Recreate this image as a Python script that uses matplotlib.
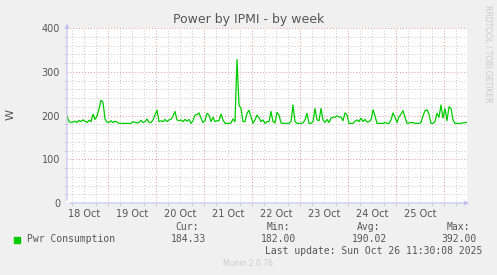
import matplotlib
matplotlib.use("Agg")
import matplotlib.pyplot as plt
import pandas as pd

# hourly samples, Oct 18 03:30 -> Oct 26 11:30
start = "2025-10-18 03:30"
power_w = [
    199, 186, 184, 185, 187, 184, 189, 186, 190, 187,
    184, 189, 186, 203, 191, 199, 215, 235, 230, 192,
    185, 184, 188, 184, 187, 185, 182, 182, 182, 182,
    182, 182, 182, 186, 184, 183, 184, 189, 184, 186,
    192, 184, 184, 190, 201, 212, 186, 188, 186, 191,
    186, 190, 191, 199, 209, 190, 188, 190, 186, 191,
    187, 191, 182, 188, 201, 202, 206, 194, 184, 188,
    205, 201, 186, 196, 186, 188, 188, 203, 190, 182,
    182, 182, 183, 192, 186, 328, 224, 216, 186, 186,
    205, 212, 197, 182, 190, 201, 195, 186, 190, 182,
    186, 186, 209, 186, 183, 207, 201, 183, 182, 182,
    182, 182, 186, 224, 186, 182, 182, 182, 183, 190,
    205, 182, 182, 186, 216, 190, 188, 216, 190, 184,
    191, 184, 194, 196, 196, 199, 197, 196, 188, 206,
    201, 182, 182, 182, 187, 190, 186, 194, 186, 191,
    185, 186, 190, 213, 199, 182, 182, 182, 182, 184,
    182, 182, 190, 206, 196, 184, 197, 203, 211, 196,
    182, 183, 184, 184, 182, 182, 182, 184, 199, 211,
    213, 203, 182, 182, 186, 205, 196, 224, 194, 216,
    188, 220, 216, 190, 182, 182, 182, 182, 183, 184,
    184,
]
day_labels = ["18 Oct", "19 Oct", "20 Oct", "21 Oct", "22 Oct", "23 Oct", "24 Oct", "25 Oct"]
y_ticks = [0, 100, 200, 300, 400]

stats_names = ["Cur:", "Min:", "Avg:", "Max:"]
stats_values = ["184.33", "182.00", "190.02", "392.00"]

times = pd.date_range(start, periods=len(power_w), freq="h")
t0, t1 = times[0], times[-1]

W, H = 497, 275
fig = plt.figure(figsize=(W / 100, H / 100), dpi=100)
fig.patch.set_facecolor("#f0f0f0")

ax = fig.add_axes([67 / W, 1 - 203 / H, 400 / W, 175 / H])
ax.set_facecolor("white")
ax.set_xlim(t0, t1)
ax.set_ylim(0, 400)

# grille mineure / majeure facon rrdtool (pointillés)
minor_col = "#c8c8c8"
major_col = "#e09a9a"
dots = (0, (1, 2))
grid_kw = dict(lw=0.7, ls=dots, zorder=1)
for v in range(0, 401, 20):
    if v % 100 == 0:
        continue
    ax.axhline(v, color=minor_col, **grid_kw)
for v in y_ticks[1:]:
    ax.axhline(v, color=major_col, clip_on=False, **grid_kw)
six_h = pd.date_range("2025-10-18 06:00", t1, freq="6h")
for t in six_h:
    col = major_col if t.hour == 0 else minor_col
    ax.axvline(t, color=col, **grid_kw)

ax.plot(times, power_w, color="#00cc00", lw=0.9, zorder=3)

for s in ax.spines.values():
    s.set_visible(False)

noons = pd.date_range("2025-10-18 12:00", periods=len(day_labels), freq="D")
ax.set_xticks(noons)
ax.set_xticklabels(day_labels)
ax.set_xticks(six_h, minor=True)
ax.set_yticks(y_ticks)
ax.set_yticks(range(0, 401, 20), minor=True)
ax.tick_params(axis="both", which="major", length=0, labelsize=7, colors="#555555")
ax.tick_params(axis="both", which="minor", length=2, width=0.7, color="#d0d0d0")
ax.tick_params(axis="x", pad=4)
ax.tick_params(axis="y", pad=5)

# axes avec fleches
axis_col = "#c0c0f0"
ax.annotate("", xy=(1.012, 0), xytext=(0, 0), xycoords="axes fraction",
            arrowprops=dict(arrowstyle="-|>", color=axis_col, lw=0.8, mutation_scale=6),
            annotation_clip=False)
ax.annotate("", xy=(0, 1.04), xytext=(0, 0), xycoords="axes fraction",
            arrowprops=dict(arrowstyle="-|>", color=axis_col, lw=0.8, mutation_scale=6),
            annotation_clip=False)

def px(x, y):
    return x / W, 1 - y / H

fig.text(*px(248.5, 19), "Power by IPMI - by week", ha="center", va="center",
         fontsize=9, color="#555555")
fig.text(*px(11, 115), "W", ha="center", va="center", rotation=90,
         fontsize=8, color="#555555")
fig.text(*px(488, 5), "RRDTOOL / TOBI OETIKER", ha="center", va="top", rotation=270,
         fontsize=5.5, color="#c8c8c8")

mono = "DejaVu Sans Mono"
fig.patches.append(plt.Rectangle(px(14, 243), 6 / W, 6 / H, transform=fig.transFigure,
                                 color="#00cc00", figure=fig))
fig.text(*px(27, 239), "Pwr Consumption", ha="left", va="center", fontsize=7,
         family=mono, color="#555555")
name_right = [199, 290, 380, 470]
val_right = [206, 296, 387, 477]
for name, val, xn, xv in zip(stats_names, stats_values, name_right, val_right):
    fig.text(*px(xn, 227), name, ha="right", va="center", fontsize=7, family=mono, color="#555555")
    fig.text(*px(xv, 239), val, ha="right", va="center", fontsize=7, family=mono, color="#555555")
fig.text(*px(482, 251), "Last update: Sun Oct 26 11:30:08 2025", ha="right", va="center",
         fontsize=7, family=mono, color="#555555")
fig.text(*px(248, 264), "Munin 2.0.76", ha="center", va="center", fontsize=5.5,
         color="#cccccc")

fig.savefig("out.png", dpi=100, facecolor=fig.get_facecolor())
